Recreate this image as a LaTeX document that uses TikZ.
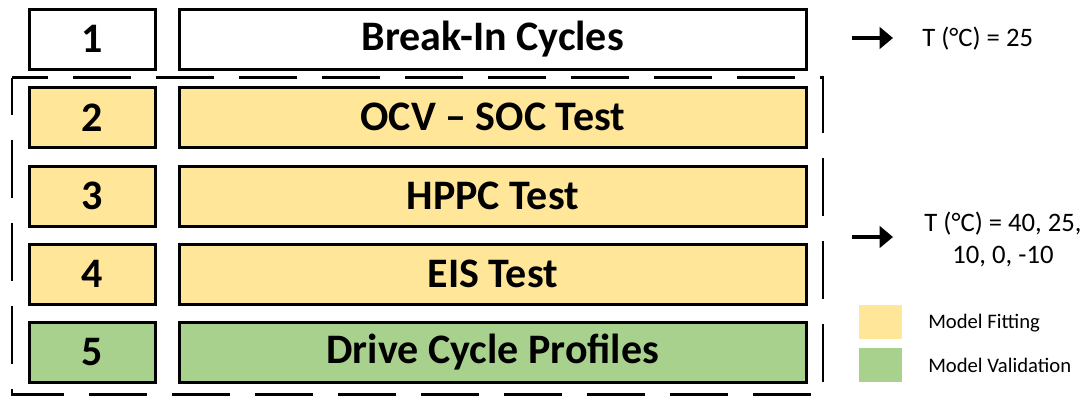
\documentclass[tikz,border=0pt]{standalone}
\usepackage{fontspec}
\setmainfont{Carlito}
\usetikzlibrary{arrows.meta}
\definecolor{fityellow}{HTML}{FFE699}
\definecolor{valgreen}{HTML}{A9D18E}
\begin{document}
\begin{tikzpicture}[x=0.75pt,y=-0.75pt,
  box/.style={draw=black,line width=2pt,inner sep=0pt,anchor=north west,font=\bfseries\fontsize{31.5}{33}\selectfont},
  numbox/.style={box,minimum width=126*0.75pt,minimum height=60*0.75pt},
  wide/.style={box,minimum width=627*0.75pt,minimum height=60*0.75pt},
  yel/.style={fill=fityellow},
  grn/.style={fill=valgreen},
  note/.style={font=\fontsize{20}{24}\selectfont,inner sep=0pt},
  legtxt/.style={font=\fontsize{15.5}{17}\selectfont,inner sep=0pt,anchor=west},
  legbox/.style={inner sep=0pt,minimum width=43*0.75pt,minimum height=34*0.75pt,anchor=north west},
  arr/.style={line width=2.4pt,-{Triangle[length=10pt,width=16pt]}},
  grp/.style={draw=black,line width=2.2pt,dash pattern=on 43.5pt off 18.75pt,dash phase=15.75pt}
]
\useasboundingbox (0,0) rectangle (1089,396);
% group frame
\draw[grp] (12,77.5) rectangle (823,394.5);
% rows
\node[numbox] (n1) at (28,8) {1};
\node[wide]   (b1) at (178,8) {Break-In Cycles};
\node[numbox,yel] (n2) at (28,86) {2};
\node[wide,yel]   (b2) at (178,86) {OCV – SOC Test};
\node[numbox,yel] (n3) at (28,165) {3};
\node[wide,yel]   (b3) at (178,165) {HPPC Test};
\node[numbox,yel] (n4) at (28,243) {4};
\node[wide,yel]   (b4) at (178,243) {EIS Test};
\node[numbox,grn] (n5) at (28,321) {5};
\node[wide,grn]   (b5) at (178,321) {Drive Cycle Profiles};
% temperature notes
\node[note,anchor=west] (t1) at (922,39) {T (°C) = 25};
\coordinate (a1s) at (852,38);
\coordinate (a1e) at (893,38);
\draw[arr] (a1s) -- (a1e);
\node[note,align=center] (t2) at (1003,239) {T (°C) = 40, 25,\\10, 0, -10};
\coordinate (a2s) at (852,237);
\coordinate (a2e) at (893,237);
\draw[arr] (a2s) -- (a2e);
% legend
\node[legbox,fill=fityellow] (l1) at (859,305) {};
\node[legbox,fill=valgreen] (l2) at (859,348) {};
\node[legtxt] (lt1) at (928,323) {Model Fitting};
\node[legtxt] (lt2) at (928,365) {Model Validation};
\end{tikzpicture}
\end{document}
